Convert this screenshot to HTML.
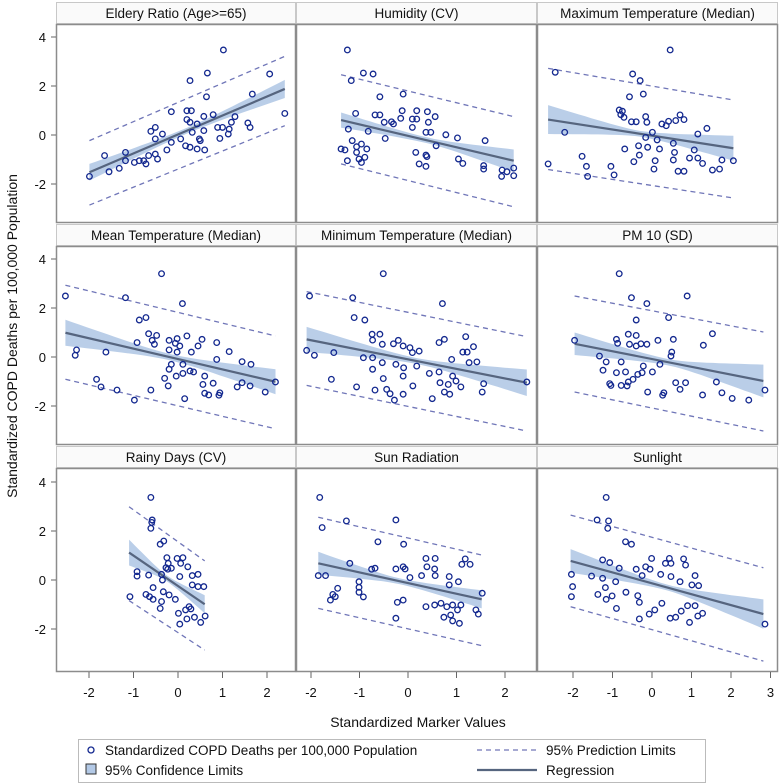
<!DOCTYPE html>
<html><head><meta charset="utf-8"><style>
html,body{margin:0;padding:0;background:#fff;}
svg{display:block;font-family:"Liberation Sans",Arial,sans-serif;}
</style></head><body>
<svg id="chart" width="780" height="784" viewBox="0 0 780 784" xmlns="http://www.w3.org/2000/svg"></svg>
<script>
// ---- data (standardized values) ----
const panelTitles = ["Eldery Ratio (Age>=65)","Humidity (CV)","Maximum Temperature (Median)","Mean Temperature (Median)","Minimum Temperature (Median)","PM 10 (SD)","Rainy Days (CV)","Sun Radiation","Sunlight"];
const yTicks = [4,2,0,-2];
const xTicksCol1 = [-2,-1,0,1,2];
const xTicksCol2 = [-2,-1,0,1,2];
const xTicksCol3 = [-2,-1,0,1,2,3];

const elderX=[1.02,0.27,0.66,2.06,0.64,1.67,-0.15,0.20,0.30,2.40,0.20,0.27,0.58,0.79,1.28,1.20,1.57,1.62,0.89,1.00,1.15,0.43,0.32,0.58,-0.51,-0.61,-0.35,-0.51,-0.15,0.06,0.17,0.27,0.48,0.50,0.60,0.43,0.94,1.13,-0.25,-0.51,-0.46,-0.66,-0.77,-0.87,-0.98,-0.72,-1.18,-1.65,-1.32,-1.55,-1.99,-1.18];
const elderY=[3.47,2.22,2.53,2.49,1.56,1.67,0.95,0.99,0.99,0.88,0.63,0.52,0.76,0.83,0.75,0.52,0.49,0.31,0.31,0.31,0.24,0.45,0.11,0.18,0.31,0.15,0.04,-0.16,-0.30,-0.16,-0.44,-0.50,-0.16,-0.23,-0.61,-0.57,-0.14,0.04,-0.61,-0.78,-0.98,-0.84,-1.05,-1.05,-1.12,-1.18,-0.71,-0.84,-1.36,-1.50,-1.69,-1.05];
const elderReg=[-1.99,-1.52,2.40,1.88], elderPiUp=[-0.23,3.21], elderPiLo=[-2.86,0.38], elderCi=[0.34,0.12,0.37];

const humX=[-1.25,-0.92,-0.72,-1.17,-0.58,-0.10,-1.08,-0.68,-0.58,-0.12,0.18,0.40,0.56,-0.34,-0.15,0.09,0.18,0.42,-0.49,-0.30,0.09,0.37,0.47,0.78,1.02,1.59,-1.23,-0.82,-0.47,-1.38,-1.30,-1.15,-1.06,-0.96,-0.85,-1.06,-1.25,-1.01,-0.89,-0.96,0.16,0.37,0.39,0.23,0.37,1.04,1.13,1.56,1.56,1.94,2.18,2.04,2.18,1.93,0.58];
const humY=[3.47,2.53,2.49,2.22,1.56,1.67,0.88,0.82,0.82,0.99,0.99,0.95,0.75,0.54,0.68,0.65,0.65,0.52,0.52,0.45,0.31,0.11,0.11,0.01,-0.12,-0.23,0.24,0.15,-0.14,-0.57,-0.61,-0.23,-0.48,-0.37,-0.57,-0.71,-1.05,-0.98,-0.91,-1.12,-0.71,-0.82,-0.88,-1.18,-1.28,-0.98,-1.16,-1.25,-1.39,-1.43,-1.35,-1.50,-1.66,-1.69,-0.44];
const humReg=[-1.38,0.61,2.18,-1.05], humPiUp=[2.46,0.75], humPiLo=[-1.18,-2.93], humCi=[0.31,0.12,0.46];

const maxtX=[0.46,-2.45,-0.49,-0.30,-0.22,-0.57,-0.83,-0.75,-0.79,-0.71,-0.52,-0.40,-0.16,-0.13,0.25,0.36,0.42,0.60,0.71,0.81,1.39,1.16,0.01,-0.16,0.13,0.54,-0.34,-0.11,0.19,-0.69,0.57,1.07,-0.32,-0.46,0.08,0.54,0.95,1.16,1.28,1.77,2.06,-1.77,-1.66,-1.04,0.05,0.66,0.81,1.53,1.71,-2.63,-1.63,-0.96,-2.21];
const maxtY=[3.47,2.56,2.49,2.22,1.67,1.56,1.02,0.97,0.83,0.72,0.54,0.54,0.75,0.52,0.45,0.38,0.56,0.59,0.82,0.63,0.27,0.04,0.11,-0.10,-0.20,-0.34,-0.44,-0.50,-0.57,-0.57,-0.71,-0.61,-0.82,-1.09,-1.05,-1.02,-0.94,-0.94,-1.16,-1.02,-1.05,-0.87,-1.28,-1.28,-1.39,-1.48,-1.48,-1.43,-1.39,-1.18,-1.69,-1.63,0.11];
const maxtReg=[-2.63,0.63,2.06,-0.54], maxtPiUp=[2.72,1.43], maxtPiLo=[-1.41,-2.57], maxtCi=[0.59,0.12,0.51];

const meanX=[-0.37,-2.53,-1.18,0.10,-0.87,-0.72,-0.66,-0.48,-0.58,-0.53,-0.20,-0.02,0.20,0.54,0.87,-0.06,0.04,0.45,-0.20,-0.02,0.30,1.15,0.87,1.44,1.64,-2.28,-2.31,-1.62,-0.92,-0.15,0.11,-0.20,0.27,0.35,0.11,-0.04,-0.30,0.60,0.56,0.79,-0.22,-0.61,0.60,0.69,0.94,0.92,0.15,-0.98,-1.37,-1.83,-1.73,1.33,1.62,1.96,2.19,1.44];
const meanY=[3.40,2.49,2.42,2.18,1.51,1.61,0.95,0.88,0.68,0.52,0.68,0.75,0.86,0.72,0.59,0.56,0.45,0.45,0.29,0.20,0.20,0.22,-0.10,-0.19,-0.30,0.29,0.07,0.20,0.59,-0.30,-0.30,-0.50,-0.57,-0.61,-0.67,-0.78,-0.87,-0.78,-1.12,-1.07,-1.18,-1.35,-1.48,-1.55,-1.46,-1.56,-1.70,-1.76,-1.35,-0.91,-1.22,-1.22,-1.18,-1.43,-1.02,-1.05];
const meanReg=[-2.53,0.99,2.19,-1.01], meanPiUp=[2.93,0.86], meanPiLo=[-0.91,-2.93], meanCi=[0.53,0.13,0.51];

const mintX=[-0.51,-2.03,-1.14,0.71,-1.11,-0.89,-0.74,-0.58,-0.73,-0.53,-0.30,-0.20,-0.10,0.04,0.09,0.23,0.64,0.75,1.19,1.35,1.13,1.22,0.90,1.26,1.42,-2.09,-1.93,-1.53,-0.92,-0.73,-0.53,-0.25,-0.09,0.18,-0.73,-0.10,0.44,0.64,0.92,-0.51,-1.58,-1.06,-0.68,-0.44,-0.37,-0.10,-0.28,0.10,0.50,0.66,0.83,0.99,1.09,0.75,0.86,1.53,1.56,2.45];
const mintY=[3.40,2.49,2.42,2.18,1.61,1.51,0.93,0.93,0.69,0.52,0.54,0.68,0.45,0.38,0.18,0.24,0.59,0.72,0.83,0.42,0.20,0.20,-0.10,-0.23,-0.20,0.27,0.07,0.18,-0.03,-0.03,-0.23,-0.30,-0.44,-0.37,-0.50,-0.78,-0.67,-0.61,-0.78,-0.88,-0.91,-1.22,-1.35,-1.32,-1.50,-1.52,-1.76,-1.18,-1.70,-1.05,-1.12,-0.98,-1.22,-1.43,-1.52,-1.43,-1.09,-1.02];
const mintReg=[-2.09,0.72,2.45,-1.05], mintPiUp=[2.67,0.83], mintPiLo=[-1.16,-3.02], mintCi=[0.51,0.12,0.54];

const pmX=[-0.83,-0.52,0.89,-0.13,-0.40,0.42,1.53,-0.60,-0.40,-0.90,-0.57,-0.40,-0.28,-0.13,0.15,0.54,1.30,0.50,-0.87,-1.96,-1.33,-1.16,-0.78,-0.22,0.20,0.48,-1.24,-0.90,-0.67,-0.36,-0.25,0.01,-0.48,-0.60,-0.63,-0.78,-1.04,-1.07,0.60,0.85,0.71,-0.11,0.30,0.27,1.28,1.77,2.03,2.45,1.63,2.86];
const pmY=[3.40,2.42,2.49,2.18,1.51,1.61,0.95,0.93,0.88,0.72,0.52,0.45,0.54,0.52,0.68,0.72,0.48,0.20,0.56,0.68,0.04,-0.20,-0.20,-0.37,-0.30,0.04,-0.54,-0.64,-0.61,-0.71,-0.64,-0.61,-0.91,-1.02,-1.18,-1.16,-1.16,-1.09,-1.05,-1.05,-1.32,-1.43,-1.46,-1.56,-1.55,-1.46,-1.69,-1.76,-1.02,-1.35];
const pmReg=[-1.96,0.54,2.82,-0.98], pmPiUp=[2.49,1.02], pmPiLo=[-1.43,-3.02], pmCi=[0.46,0.13,0.67];

const rainX=[-0.61,-0.58,-0.59,-0.61,-0.40,-0.32,-0.25,-0.02,0.11,0.06,0.22,-0.22,-0.27,-0.15,-0.23,-0.92,-0.92,-0.66,-0.37,0.04,0.32,0.45,-0.35,0.32,0.45,0.58,-0.56,-0.33,-0.20,-0.72,-0.64,-0.56,-1.08,-0.37,-0.40,-0.06,0.01,0.17,0.25,0.29,0.37,0.20,0.61,0.51,0.04];
const rainY=[3.37,2.45,2.35,2.11,1.46,1.59,0.91,0.88,0.91,0.68,0.54,0.68,0.50,0.48,0.44,0.34,0.16,0.20,0.23,0.14,0.18,0.23,0.00,-0.20,-0.27,-0.27,-0.31,-0.48,-0.61,-0.59,-0.68,-0.79,-0.68,-0.88,-1.16,-0.79,-1.36,-1.22,-1.09,-1.18,-1.52,-1.59,-1.47,-1.73,-1.80];
const rainReg=[-1.10,1.12,0.60,-0.99], rainPiUp=[2.99,0.78], rainPiLo=[-0.84,-2.86], rainCi=[0.53,0.12,0.37];

const sunradX=[-1.82,-1.77,-1.27,-0.25,-0.62,-0.09,0.37,0.56,1.18,1.11,1.28,0.39,0.55,-0.25,-0.10,-0.06,-0.68,-0.75,-1.20,-1.85,-1.70,0.28,0.56,0.85,0.04,1.04,0.85,-1.01,-1.01,-1.01,-0.92,-1.45,-1.55,-1.50,-1.60,-0.22,-0.10,-0.25,0.37,0.55,0.68,0.80,0.92,1.09,0.74,0.88,0.92,1.06,1.02,1.40,1.45,1.53];
const sunradY=[3.37,2.14,2.41,2.45,1.56,1.46,0.88,0.88,0.86,0.64,0.64,0.54,0.45,0.45,0.54,0.45,0.48,0.44,0.68,0.18,0.18,0.18,0.18,0.14,0.10,-0.07,-0.20,-0.07,-0.30,-0.50,-0.69,-0.34,-0.59,-0.68,-0.82,-0.91,-0.82,-1.56,-1.09,-1.02,-0.95,-1.09,-1.02,-1.02,-1.52,-1.43,-1.67,-1.77,-1.22,-1.22,-1.39,-0.54];
const sunradReg=[-1.85,0.68,1.52,-0.79], sunradPiUp=[2.56,1.02], sunradPiLo=[-1.16,-2.68], sunradCi=[0.47,0.12,0.37];

const sunlX=[-1.16,-1.39,-1.10,-1.12,-0.67,-0.52,-0.01,0.44,0.80,0.34,0.48,0.85,-0.16,-0.40,-0.05,-0.83,-1.25,-1.07,-0.25,0.22,0.48,1.09,0.71,1.01,1.18,-2.04,-2.01,-2.04,-1.53,-1.25,-0.92,-1.18,-1.37,-1.16,-1.01,-0.66,-0.36,-0.32,-0.90,-0.32,-0.07,0.07,0.25,0.46,0.60,0.74,0.90,1.09,1.28,0.95,1.16,2.86];
const sunlY=[3.37,2.45,2.41,2.11,1.56,1.46,0.88,0.88,0.86,0.68,0.68,0.61,0.54,0.44,0.44,0.48,0.82,0.71,0.18,0.23,0.14,0.18,-0.07,-0.20,-0.23,0.23,-0.27,-0.68,0.16,0.07,-0.07,-0.31,-0.59,-0.79,-0.65,-0.50,-0.64,-0.91,-1.16,-1.59,-1.39,-1.22,-0.95,-1.56,-1.52,-1.27,-1.05,-1.05,-1.36,-1.73,-1.47,-1.80];
const sunlReg=[-2.06,0.78,2.82,-1.39], sunlPiUp=[2.65,0.50], sunlPiLo=[-1.09,-3.31], sunlCi=[0.48,0.12,0.60];

const panelXs=[elderX,humX,maxtX,meanX,mintX,pmX,rainX,sunradX,sunlX];
const panelYs=[elderY,humY,maxtY,meanY,mintY,pmY,rainY,sunradY,sunlY];
const panelRegs=[elderReg,humReg,maxtReg,meanReg,mintReg,pmReg,rainReg,sunradReg,sunlReg];
const panelPiUps=[elderPiUp,humPiUp,maxtPiUp,meanPiUp,mintPiUp,pmPiUp,rainPiUp,sunradPiUp,sunlPiUp];
const panelPiLos=[elderPiLo,humPiLo,maxtPiLo,meanPiLo,mintPiLo,pmPiLo,rainPiLo,sunradPiLo,sunlPiLo];
const panelCis=[elderCi,humCi,maxtCi,meanCi,mintCi,pmCi,rainCi,sunradCi,sunlCi];

// ---- layout ----
const colLeft=[56,296,537], colRight=[296,537,778];
const colZero=[178,408,652], colScale=[44.5,48.5,39.5];
const rowHeadTop=[2,224,446], rowPlotTop=[24,246,468], rowPlotBot=[223,445,672];
const rowZero=[135,357,580], yScale=24.5;
const NS="http://www.w3.org/2000/svg";
const svg=document.getElementById('chart');
function mk(tag,attrs,parent){const e=document.createElementNS(NS,tag);for(const k in attrs)e.setAttribute(k,attrs[k]);(parent||svg).appendChild(e);return e;}
function sx(c,v){return colZero[c]+colScale[c]*v;}
function sy(r,v){return rowZero[r]-yScale*v;}

const defs=mk('defs',{});
for(let i=0;i<9;i++){
  const c=i%3,r=Math.floor(i/3);
  const cp=mk('clipPath',{id:'clip'+i},defs);
  mk('rect',{x:colLeft[c],y:rowPlotTop[r],width:colRight[c]-colLeft[c],height:rowPlotBot[r]-rowPlotTop[r]},cp);
}

for(let i=0;i<9;i++){
  const c=i%3,r=Math.floor(i/3);
  const g=mk('g',{});
  
  
  // header
  const hd=mk('rect',{x:colLeft[c]+0.5,y:rowHeadTop[r]+0.5,width:colRight[c]-colLeft[c]-1,height:rowPlotTop[r]-rowHeadTop[r]-1,fill:'#fafafa',stroke:'#c8c8c8'},g);
  
  
  const ht=mk('text',{x:(colLeft[c]+colRight[c])/2,y:rowHeadTop[r]+16,'text-anchor':'middle','font-size':'13.5',fill:'#111'},g);
  ht.textContent=panelTitles[i];
  
  
  // plot area
  const pa=mk('rect',{x:colLeft[c]+0.5,y:rowPlotTop[r]+0.5,width:colRight[c]-colLeft[c]-1,height:rowPlotBot[r]-rowPlotTop[r]-1,fill:'#fff',stroke:'#8c8c8c','stroke-width':1.5},g);
  
  
  const inner=mk('g',{'clip-path':'url(#clip'+i+')'},g);
  const reg=panelRegs[i],ci=panelCis[i],up=panelPiUps[i],lo=panelPiLos[i];
  const x0=reg[0],y0=reg[1],x1=reg[2],y1=reg[3],xm=(x0+x1)/2;
  const regAt=v=>y0+(y1-y0)*(v-x0)/(x1-x0);
  // CI band
  const N=30,top=[],bot=[];
  for(let k=0;k<=N;k++){
    const v=x0+(x1-x0)*k/N;
    const e=v<xm?ci[0]:ci[2];
    const t=(v-xm)/((x1-x0)/2);
    const hw=Math.sqrt(ci[1]*ci[1]+(e*e-ci[1]*ci[1])*t*t);
    top.push(sx(c,v).toFixed(1)+','+sy(r,regAt(v)+hw).toFixed(1));
    bot.unshift(sx(c,v).toFixed(1)+','+sy(r,regAt(v)-hw).toFixed(1));
  }
  const band=mk('polygon',{points:top.concat(bot).join(' '),fill:'#b3c9e6',opacity:0.9},inner);
  
  
  // prediction limits
  const pu=mk('line',{x1:sx(c,x0),y1:sy(r,up[0]),x2:sx(c,x1),y2:sy(r,up[1]),stroke:'#7076b8','stroke-width':1.3,'stroke-dasharray':'5,4'},inner);
  
  
  const pl=mk('line',{x1:sx(c,x0),y1:sy(r,lo[0]),x2:sx(c,x1),y2:sy(r,lo[1]),stroke:'#7076b8','stroke-width':1.3,'stroke-dasharray':'5,4'},inner);
  
  
  // regression
  const rl=mk('line',{x1:sx(c,x0),y1:sy(r,y0),x2:sx(c,x1),y2:sy(r,y1),stroke:'#56657f','stroke-width':2.2},inner);
  
  
  // points
  const xs=panelXs[i],ys=panelYs[i];
  for(let k=0;k<xs.length;k++){
    const p=mk('circle',{cx:sx(c,xs[k]),cy:sy(r,ys[k]),r:2.8,fill:'none',stroke:'#13288f','stroke-width':1.3},inner);
    
    
  }
}

// y axes
for(let r=0;r<3;r++){
  for(const t of yTicks){
    const y=sy(r,t);
    const tk=mk('line',{x1:51,y1:y,x2:56,y2:y,stroke:'#666'});
    
    
    const tl=mk('text',{x:46,y:y+5,'text-anchor':'end','font-size':'13',fill:'#111'});
    tl.textContent=String(t);
    
    
  }
}
// x axes
const xTickSets=[xTicksCol1,xTicksCol2,xTicksCol3];
for(let c=0;c<3;c++){
  for(const t of xTickSets[c]){
    const x=sx(c,t);
    const tk=mk('line',{x1:x,y1:672,x2:x,y2:678,stroke:'#666'});
    
    
    const tl=mk('text',{x:x,y:697,'text-anchor':'middle','font-size':'13',fill:'#111'});
    tl.textContent=String(t);
    
    
  }
}
const xt=mk('text',{x:418,y:727,'text-anchor':'middle','font-size':'14',fill:'#111'});
xt.textContent='Standardized Marker Values';


const yt=mk('text',{x:0,y:0,'text-anchor':'middle','font-size':'14',fill:'#111',transform:'translate(17,336) rotate(-90)'});
yt.textContent='Standardized COPD Deaths per 100,000 Population';



// legend
const lg=mk('g',{});


mk('rect',{x:78.5,y:739.5,width:627,height:43,fill:'#fff',stroke:'#bbb'},lg);
const l1=mk('circle',{cx:91,cy:750,r:3,fill:'none',stroke:'#13288f','stroke-width':1.3},lg);


const t1=mk('text',{x:105,y:755,'font-size':'13.5',fill:'#111'},lg);t1.textContent='Standardized COPD Deaths per 100,000 Population';
const l2=mk('rect',{x:86,y:764,width:10,height:10,fill:'#b3c9e6',stroke:'#333','stroke-width':1},lg);


const t2=mk('text',{x:105,y:775,'font-size':'13.5',fill:'#111'},lg);t2.textContent='95% Confidence Limits';
const l3=mk('line',{x1:477,y1:750,x2:537,y2:750,stroke:'#7076b8','stroke-width':1.3,'stroke-dasharray':'5,4'},lg);


const t3=mk('text',{x:546,y:755,'font-size':'13.5',fill:'#111'},lg);t3.textContent='95% Prediction Limits';
const l4=mk('line',{x1:477,y1:770,x2:537,y2:770,stroke:'#56657f','stroke-width':2.2},lg);


const t4=mk('text',{x:546,y:775,'font-size':'13.5',fill:'#111'},lg);t4.textContent='Regression';
</script>
</body></html>
